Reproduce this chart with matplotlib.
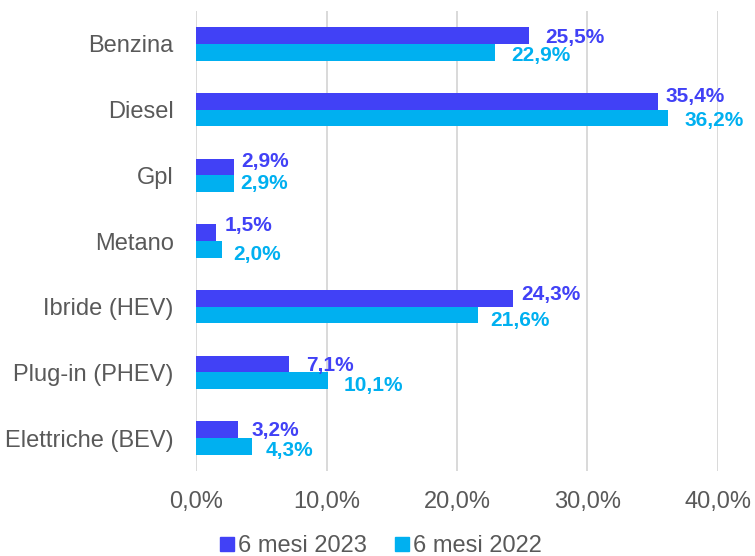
import matplotlib
matplotlib.use("Agg")
import matplotlib.pyplot as plt
import numpy as np

categories = ["Benzina", "Diesel", "Gpl", "Metano", "Ibride (HEV)", "Plug-in (PHEV)", "Elettriche (BEV)"]
s2023 = [25.5, 35.4, 2.9, 1.5, 24.3, 7.1, 3.2]
s2022 = [22.9, 36.2, 2.9, 2.0, 21.6, 10.1, 4.3]
series_names = ["6 mesi 2023", "6 mesi 2022"]
xticks = [0, 10, 20, 30, 40]
xtick_labels = ["0,0%", "10,0%", "20,0%", "30,0%", "40,0%"]

# label nudges in pixels (dx right from bar end, dy up from bar centre)
nudge_2023 = [(16, 0), (8, 7), (7, 7), (9, 9), (8, 6), (17, 1), (14, 1)]
nudge_2022 = [(16, -1), (16, -1), (6, 2), (11, -3), (12, -3), (16, -3), (14, -2)]

c1 = "#4141F6"
c2 = "#00B0F0"
gray = "#595959"
DPI = 100
px2pt = 72.0 / DPI

plt.rcParams['font.family'] = ['Liberation Sans', 'DejaVu Sans']

fig = plt.figure(figsize=(7.55, 5.56), dpi=DPI)
ax = fig.add_axes([196/755, 1-471/556, (718-196)/755, 460/556])

y = np.arange(len(categories))
h = 0.255
ax.barh(y - h/2, s2023, height=h, color=c1, label=series_names[0], zorder=3)
ax.barh(y + h/2, s2022, height=h, color=c2, label=series_names[1], zorder=3)

lfs = 15
half_digit_pt = 0.358 * lfs
def put(vals, offs, ys, color):
    for yi, v, (dx, dy) in zip(ys, vals, offs):
        ax.annotate(f"{v:.1f}%".replace(".", ","), (v, yi), xytext=(dx * px2pt, dy * px2pt - half_digit_pt),
                    textcoords="offset points", ha="left", va="baseline", color=color,
                    fontsize=lfs, fontweight="bold")
put(s2023, nudge_2023, y - h/2, c1)
put(s2022, nudge_2022, y + h/2, c2)

ax.set_ylim(len(categories) - 0.5, -0.5)
ax.set_xlim(0, 40)
ax.set_xticks(xticks)
ax.set_xticklabels(xtick_labels)
ax.set_yticks(y)
ax.set_yticklabels(categories)
ax.tick_params(axis="both", length=0, labelsize=17, colors=gray)
ax.tick_params(axis="x", pad=14.5)
ax.tick_params(axis="y", pad=16)
ax.grid(axis="x", color="#D9D9D9", linewidth=1.4, zorder=0)
for s in ax.spines.values():
    s.set_visible(False)

handles = [plt.Line2D([], [], marker="s", linestyle="none", color=c, markersize=9.4) for c in (c1, c2)]
fig.legend(handles, series_names, loc="center", bbox_to_anchor=(380.5/755, 1-546.5/556), ncol=2, frameon=False,
           fontsize=17, labelcolor=gray, handletextpad=0.1, columnspacing=1.15, handlelength=0.7,
           borderpad=0, borderaxespad=0)

fig.savefig("out.png", dpi=DPI)
